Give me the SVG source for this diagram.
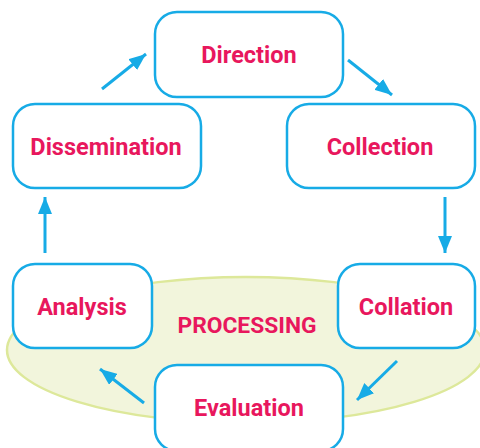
<svg xmlns="http://www.w3.org/2000/svg" width="480" height="448" viewBox="0 0 480 448">
  <defs>
    <marker id="arr" markerWidth="17" markerHeight="14" refX="17" refY="7" orient="auto" markerUnits="userSpaceOnUse" viewBox="0 0 17 14">
      <path d="M0,0 L17,7 L0,14 z" fill="#17ABE6"/>
    </marker>
    <style>
      .box { fill: #ffffff; stroke: #17ABE6; stroke-width: 2.5; }
      .lbl { font-family: Roboto, "Liberation Sans", sans-serif; font-weight: 700; font-size: 23.5px; fill: #E8175D; text-anchor: middle; }
      .con { stroke: #17ABE6; stroke-width: 3; fill: none; }
    </style>
  </defs>
  <rect width="480" height="448" fill="#ffffff"/>
  <g id="processing">
    <ellipse cx="246" cy="350" rx="239" ry="73" fill="#F2F5DC" stroke="#DDE89A" stroke-width="2.5"/>
    <text class="lbl" x="247" y="333" style="font-size:22.8px">PROCESSING</text>
  </g>
  <g id="connectors">
    <line class="con" x1="102" y1="89" x2="146" y2="54" marker-end="url(#arr)"/>
    <line class="con" x1="348" y1="60" x2="392" y2="95" marker-end="url(#arr)"/>
    <line class="con" x1="445" y1="197" x2="445" y2="253" marker-end="url(#arr)"/>
    <line class="con" x1="397" y1="361" x2="357" y2="400" marker-end="url(#arr)"/>
    <line class="con" x1="144" y1="403" x2="100" y2="369" marker-end="url(#arr)"/>
    <line class="con" x1="45" y1="253" x2="45" y2="197" marker-end="url(#arr)"/>
  </g>
  <g id="direction">
    <rect class="box" x="155" y="12" width="188" height="85" rx="22"/>
    <text class="lbl" x="249" y="63">Direction</text>
  </g>
  <g id="collection">
    <rect class="box" x="287" y="104" width="188" height="84" rx="22"/>
    <text class="lbl" x="380" y="155">Collection</text>
  </g>
  <g id="dissemination">
    <rect class="box" x="13" y="104" width="188" height="84" rx="22"/>
    <text class="lbl" x="106" y="155">Dissemination</text>
  </g>
  <g id="analysis">
    <rect class="box" x="13" y="264" width="139" height="84" rx="22"/>
    <text class="lbl" x="82" y="315">Analysis</text>
  </g>
  <g id="collation">
    <rect class="box" x="338" y="264" width="137" height="84" rx="22"/>
    <text class="lbl" x="406" y="315">Collation</text>
  </g>
  <g id="evaluation">
    <rect class="box" x="155" y="365" width="188" height="86" rx="22"/>
    <text class="lbl" x="249" y="416">Evaluation</text>
  </g>
</svg>
